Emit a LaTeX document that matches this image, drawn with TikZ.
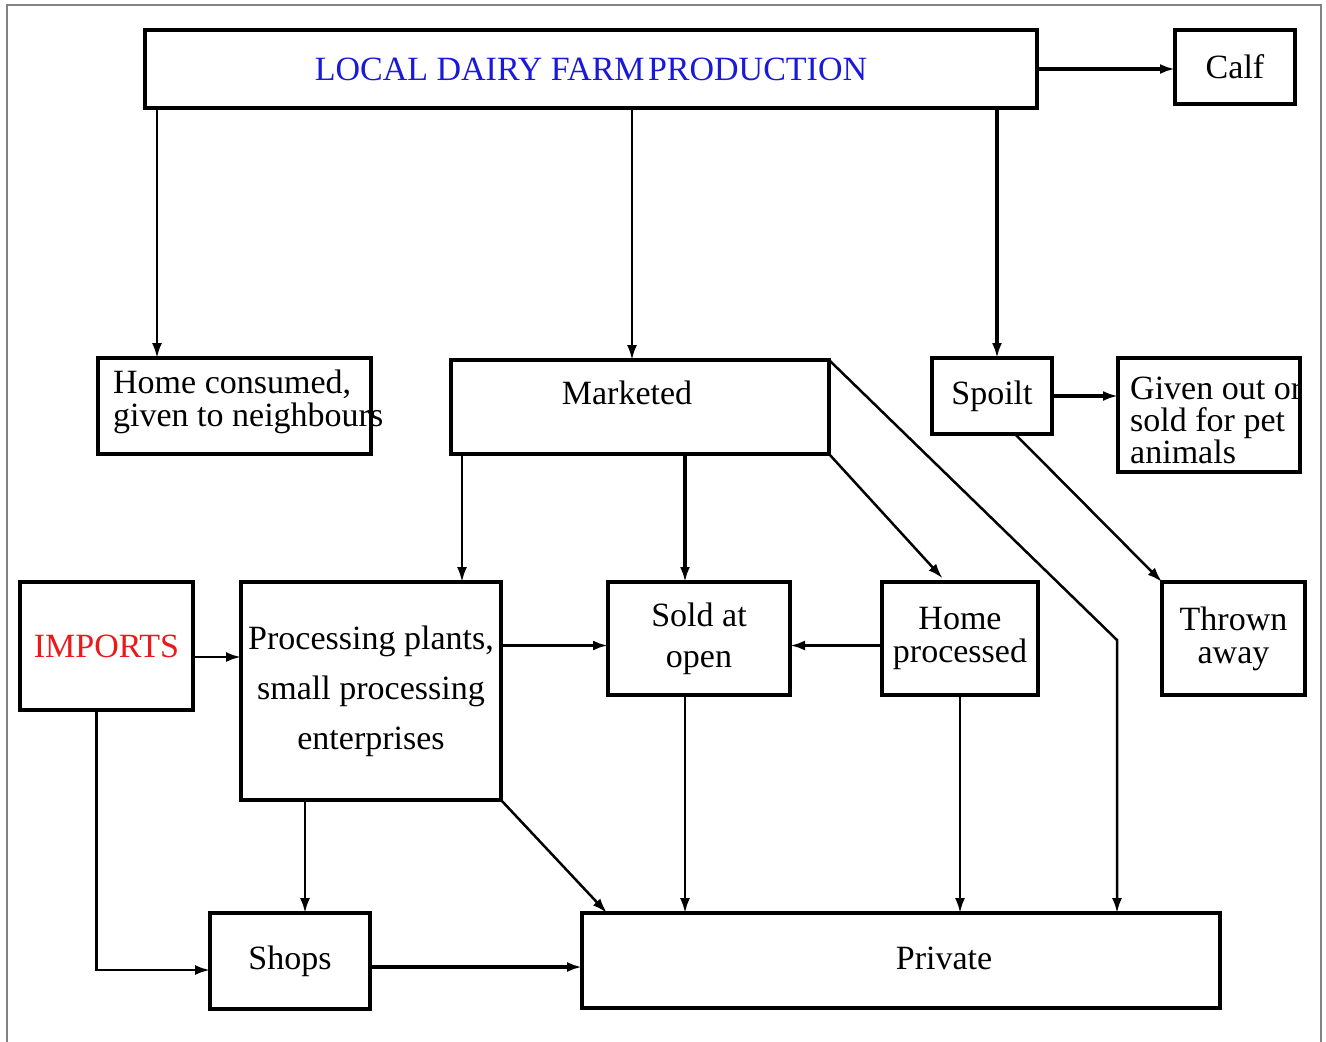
\documentclass[tikz,border=0pt]{standalone}
\usepackage{fontspec}
\setmainfont{Liberation Serif}
\usetikzlibrary{arrows.meta, positioning}
\definecolor{titleblue}{RGB}{25,25,215}
\definecolor{importred}{RGB}{235,25,25}
\definecolor{framegray}{RGB}{130,130,130}

\begin{document}
\begin{tikzpicture}[
    x=1pt, y=-1pt,
    every node/.style={font=\fontsize{34}{34}\selectfont},
    box/.style={draw, rectangle, line width=4pt, anchor=north west, inner sep=0pt, outer sep=0pt, align=center},
    txt/.style={inner sep=0pt, align=center},
    arrow/.style={-{Latex[length=15pt, width=10pt]}, line width=2.5pt},
    thickarrow/.style={arrow, line width=3.5pt}
]
\useasboundingbox (0,0) rectangle (1326,1042);

% outer frame
\draw[framegray, line width=2pt] (7,1042) -- (7,5) -- (1321,5) -- (1321,1042);

% top row
\node[box, minimum width=892pt, minimum height=78pt] (farm) at (145,30) {\textcolor{titleblue}{LOCAL DAIRY FARM\hspace{0.1em}PRODUCTION}};
\node[box, minimum width=120pt, minimum height=74pt] (calf) at (1175,30) {Calf};

% second row
\node[box, minimum width=273pt, minimum height=96pt] (home) at (98,358) {};
\node[txt, anchor=west, align=left, font=\fontsize{34}{33}\selectfont] (homeT) at (113,402) {Home consumed,\\given to neighbours};
\node[box, minimum width=378pt, minimum height=94pt] (market) at (451,360) {};
\node[txt] (marketT) at (627,393) {Marketed};
\node[box, minimum width=120pt, minimum height=76pt] (spoilt) at (932,358) {Spoilt};
\node[box, minimum width=182pt, minimum height=114pt] (given) at (1118,358) {};
\node[txt, anchor=west, align=left, font=\fontsize{34}{32}\selectfont] (givenT) at (1130,420) {Given out or\\sold for pet\\animals};

% third row
\node[box, minimum width=173pt, minimum height=128pt] (imports) at (20,582) {\textcolor{importred}{IMPORTS}};
\node[box, minimum width=260pt, minimum height=218pt, font=\fontsize{34}{50}\selectfont] (proc) at (241,582) {Processing plants,\\small processing\\enterprises};
\node[box, minimum width=182pt, minimum height=113pt, font=\fontsize{34}{41}\selectfont] (sold) at (608,582) {Sold at\\open};
\node[box, minimum width=156pt, minimum height=113pt, font=\fontsize{34}{33}\selectfont] (hproc) at (882,582) {Home\\processed};
\node[box, minimum width=143pt, minimum height=113pt, font=\fontsize{34}{33}\selectfont] (thrown) at (1162,582) {Thrown\\away};

% bottom row
\node[box, minimum width=160pt, minimum height=96pt] (shops) at (210,913) {Shops};
\node[box, minimum width=638pt, minimum height=95pt] (private) at (582,913) {};
\node[txt] (privateT) at (944,958) {Private};

% arrows from farm production
\draw[arrow] ([xshift=12pt]farm.south west) -- ([xshift=12pt]farm.south west |- home.north);
\draw[arrow] ([xshift=41pt]farm.south) -- ([xshift=41pt]farm.south |- market.north);
\draw[thickarrow] ([xshift=-40pt]farm.south east) -- ([xshift=-40pt]farm.south east |- spoilt.north);
\draw[thickarrow] (farm.east) -- (farm.east -| calf.west);

% spoilt
\draw[thickarrow] (spoilt.east) -- (spoilt.east -| given.west);
\draw[arrow] ([xshift=23pt]spoilt.south) -- (thrown.north west);

% marketed
\draw[arrow] ([xshift=11pt]market.south west) -- ([xshift=11pt]market.south west |- proc.north);
\draw[thickarrow] ([xshift=45pt]market.south) -- ([xshift=45pt]market.south |- sold.north);
\draw[arrow, shorten >=5pt] (market.south east) -- ([xshift=-14pt]hproc.north);
\coordinate (bend) at (1117,640);
\draw[arrow] (market.north east) -- (bend) -- (bend |- private.north);

% middle row links
\draw[arrow] ([yshift=-11pt]imports.east) -- ([yshift=-11pt]imports.east -| proc.west);
\draw[arrow] ([xshift=-10pt]imports.south) |- ([yshift=-9pt]shops.west);
\draw[thickarrow] ([yshift=-7pt]sold.west -| proc.east) -- ([yshift=-7pt]sold.west);
\draw[thickarrow] ([yshift=-7pt]hproc.west) -- ([yshift=-7pt]hproc.west -| sold.east);

% into shops and private
\draw[arrow] ([xshift=-66pt]proc.south) -- ([xshift=-66pt]proc.south |- shops.north);
\draw[arrow] (proc.south east) -- ([xshift=25pt]private.north west);
\draw[arrow] ([xshift=-14pt]sold.south) -- ([xshift=-14pt]sold.south |- private.north);
\draw[arrow] (hproc.south) -- (hproc.south |- private.north);
\draw[thickarrow] ([yshift=-6pt]shops.east) -- ([yshift=-6pt]shops.east -| private.west);

\end{tikzpicture}
\end{document}
